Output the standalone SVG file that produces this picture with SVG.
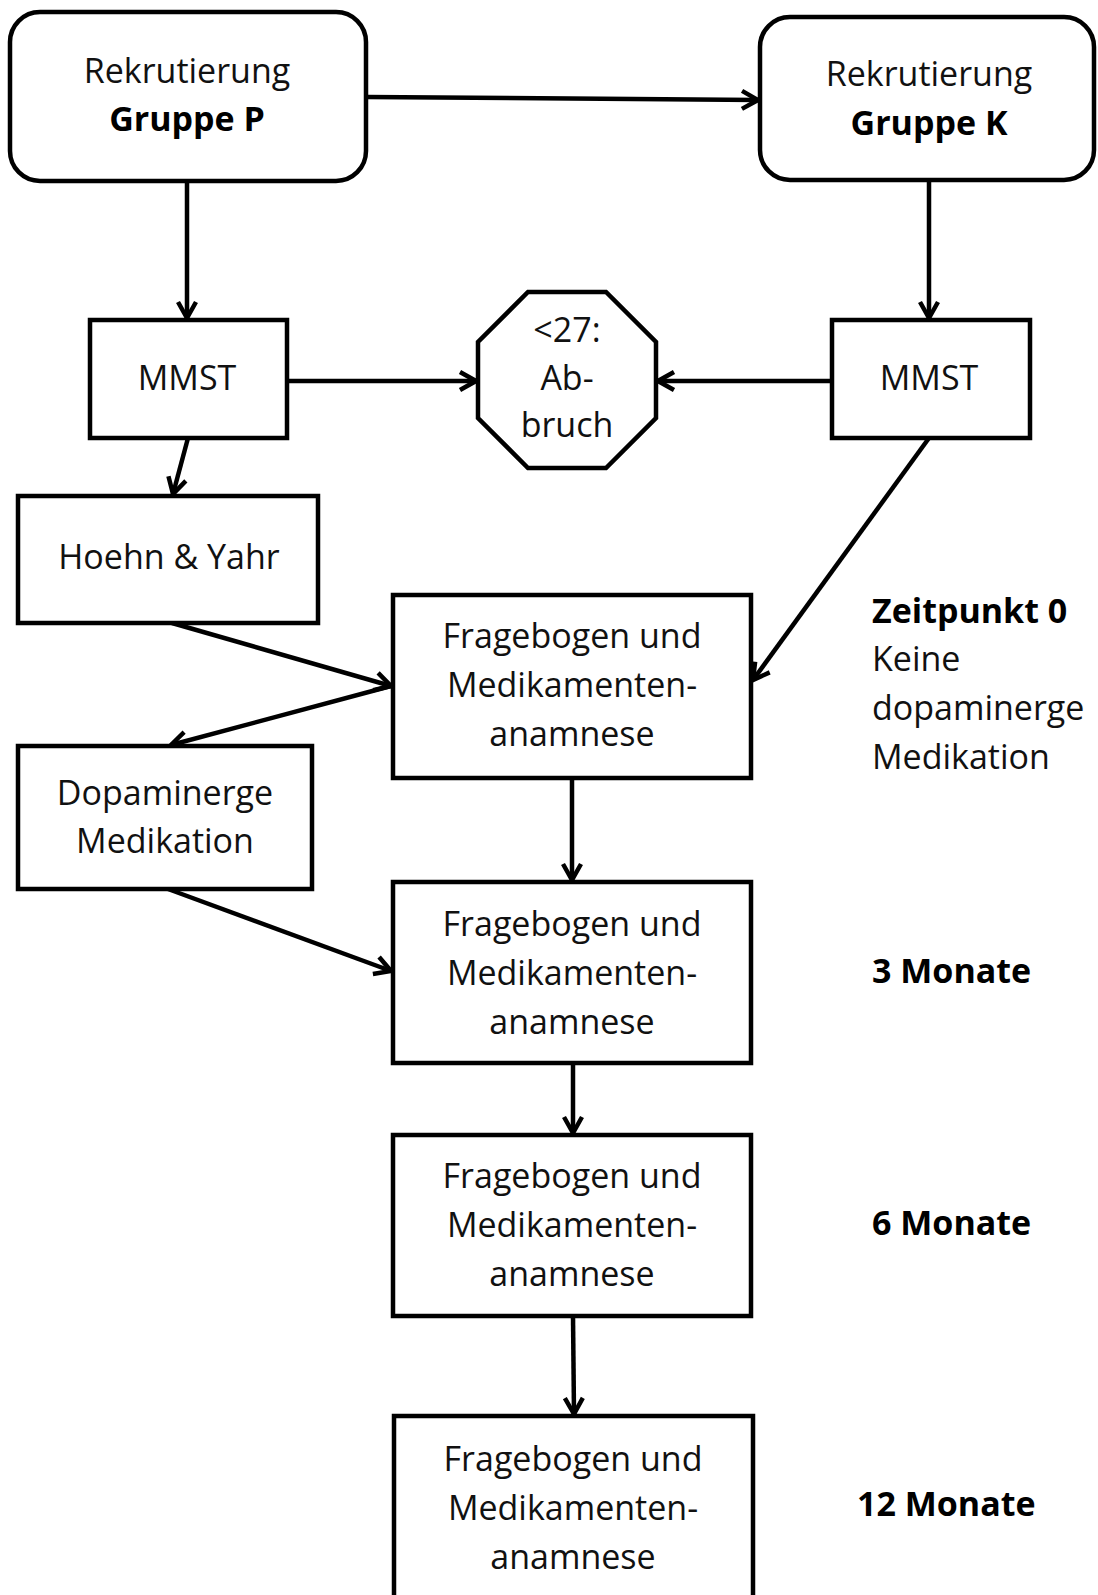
<svg xmlns="http://www.w3.org/2000/svg" width="1098" height="1595" viewBox="0 0 1098 1595">
<style>
.box{fill:#fff;stroke:#000;stroke-width:4.5}
.t{font-family:"Open Sans","Noto Sans",sans-serif;font-size:34px;fill:#111;text-anchor:middle}
.b{font-weight:bold;fill:#000}
.l{text-anchor:start}
.c{fill:none;stroke:#000;stroke-width:4.5;marker-end:url(#ah)}
</style>
<defs>
<marker id="ah" markerUnits="userSpaceOnUse" viewBox="0 0 24 24" markerWidth="24" markerHeight="24" refX="21" refY="12" orient="auto">
<path d="M5,3 L21,12 L5,21" fill="none" stroke="#000" stroke-width="4.5" stroke-linejoin="miter"/>
</marker>
</defs>
<rect width="1098" height="1595" fill="#fff"/>
<g id="connectors">
<line class="c" x1="367" y1="97" x2="758" y2="100"/>
<line class="c" x1="187" y1="181" x2="187" y2="318"/>
<line class="c" x1="929" y1="181" x2="929" y2="318"/>
<line class="c" x1="287" y1="381" x2="476" y2="381"/>
<line class="c" x1="832" y1="381" x2="658" y2="381"/>
<line class="c" x1="188" y1="438" x2="173" y2="494"/>
<line class="c" x1="929" y1="438" x2="753" y2="680"/>
<line class="c" x1="172" y1="623" x2="391" y2="686"/>
<line class="c" x1="391" y1="686" x2="171" y2="745"/>
<line class="c" x1="168" y1="889" x2="391" y2="971"/>
<line class="c" x1="572" y1="778" x2="572" y2="880"/>
<line class="c" x1="573" y1="1063" x2="573" y2="1133"/>
<line class="c" x1="573" y1="1316" x2="574" y2="1414"/>
</g>
<g id="rekrutierung-p">
<rect class="box" x="10" y="12" width="356" height="169" rx="30"/>
<text class="t" x="187" y="83">Rekrutierung</text>
<text class="t b" x="187" y="131">Gruppe P</text>
</g>
<g id="rekrutierung-k">
<rect class="box" x="760" y="17" width="334" height="163" rx="30"/>
<text class="t" x="929" y="86">Rekrutierung</text>
<text class="t b" x="929" y="135">Gruppe K</text>
</g>
<g id="mmst-p">
<rect class="box" x="90" y="320" width="197" height="118"/>
<text class="t" x="187" y="390">MMST</text>
</g>
<g id="abbruch">
<polygon class="box" points="528,292 606,292 656,342 656,418 606,468 528,468 478,418 478,342"/>
<text class="t" x="567" y="342">&lt;27:</text>
<text class="t" x="567" y="390">Ab-</text>
<text class="t" x="567" y="437">bruch</text>
</g>
<g id="mmst-k">
<rect class="box" x="832" y="320" width="198" height="118"/>
<text class="t" x="929" y="390">MMST</text>
</g>
<g id="hoehn-yahr">
<rect class="box" x="18" y="496" width="300" height="127"/>
<text class="t" x="169" y="569">Hoehn &amp; Yahr</text>
</g>
<g id="dopaminerge">
<rect class="box" x="18" y="746" width="294" height="143"/>
<text class="t" x="165" y="805">Dopaminerge</text>
<text class="t" x="165" y="853">Medikation</text>
</g>
<g id="frage-0">
<rect class="box" x="393" y="595" width="358" height="183"/>
<text class="t" x="572" y="648">Fragebogen und</text>
<text class="t" x="572" y="697">Medikamenten-</text>
<text class="t" x="572" y="746">anamnese</text>
</g>
<g id="frage-3">
<rect class="box" x="393" y="882" width="358" height="181"/>
<text class="t" x="572" y="936">Fragebogen und</text>
<text class="t" x="572" y="985">Medikamenten-</text>
<text class="t" x="572" y="1034">anamnese</text>
</g>
<g id="frage-6">
<rect class="box" x="393" y="1135" width="358" height="181"/>
<text class="t" x="572" y="1188">Fragebogen und</text>
<text class="t" x="572" y="1237">Medikamenten-</text>
<text class="t" x="572" y="1286">anamnese</text>
</g>
<g id="frage-12">
<rect class="box" x="394" y="1416" width="359" height="200"/>
<text class="t" x="573" y="1471">Fragebogen und</text>
<text class="t" x="573" y="1520">Medikamenten-</text>
<text class="t" x="573" y="1569">anamnese</text>
</g>
<g id="labels">
<text class="t b l" x="872" y="623">Zeitpunkt 0</text>
<text class="t l" x="872" y="671">Keine</text>
<text class="t l" x="872" y="720">dopaminerge</text>
<text class="t l" x="872" y="769">Medikation</text>
<text class="t b l" x="872" y="983">3 Monate</text>
<text class="t b l" x="872" y="1235">6 Monate</text>
<text class="t b l" x="857" y="1516">12 Monate</text>
</g>
</svg>
